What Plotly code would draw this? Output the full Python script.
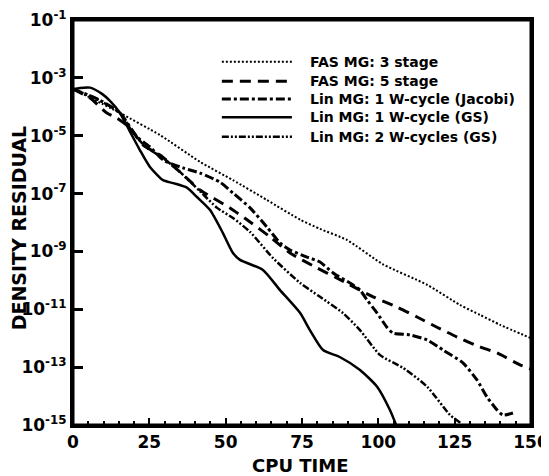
import plotly.graph_objects as go

# ---- data (CPU time vs density residual) ----
fas3_cpu = [0, 15.4, 28.5, 41.6, 52.4, 63.5, 74.4, 80.9, 89.7, 101.5, 116.0, 126.8, 133.3, 139.9, 150.0]
fas3_res = [4.1e-4, 6.1e-5, 1.05e-5, 1.25e-6, 2.9e-7, 6.0e-8, 1.25e-8, 6.0e-9, 2.5e-9, 3.6e-10,
            7.0e-11, 1.4e-11, 6.4e-12, 2.9e-12, 1.0e-12]

fas5_cpu = [0, 5.6, 11.1, 14.4, 18.7, 22.9, 28.5, 35.0, 41.6, 51.4, 58.0, 64.5, 71.1, 79.9, 86.5,
            98.3, 106.1, 112.7, 119.2, 125.8, 133.3, 138.9, 146.4, 150.0]
fas5_res = [4.1e-4, 2.0e-4, 6.1e-5, 4.1e-5, 1.85e-5, 4.8e-6, 2.15e-6, 5.6e-7, 1.33e-7, 3.2e-8, 1.04e-8,
            3.2e-9, 8.8e-10, 2.7e-10, 1.2e-10, 2.7e-11, 1.2e-11, 5.4e-12, 2.4e-12, 1.1e-12, 5.0e-13,
            3.1e-13, 1.2e-13, 8.6e-14]

jac_cpu = [0, 8.8, 15.4, 21.0, 25.2, 29.5, 36.0, 41.6, 48.1, 52.4, 58.0, 63.5, 67.8, 71.1, 76.6, 80.9,
           85.2, 90.7, 94.0, 96.3, 99.6, 102.8, 104.8, 110.4, 116.0, 121.2, 127.7, 132.3, 135.6, 138.9,
           140.8, 144.1]
jac_res = [4.1e-4, 1.7e-4, 6.1e-5, 9.0e-6, 4.1e-6, 1.45e-6, 7.7e-7, 5.1e-7, 2.5e-7, 1.05e-7, 3.2e-8,
           7.0e-9, 1.96e-9, 1.12e-9, 6.4e-10, 4.3e-10, 1.8e-10, 8.1e-11, 4.6e-11, 2.1e-11, 7.4e-12,
           2.4e-12, 1.5e-12, 1.3e-12, 8.7e-13, 3.9e-13, 1.4e-13, 3.6e-14, 9.3e-15, 3.3e-15, 2.2e-15, 2.6e-15]

gs1_cpu = [0, 2.3, 5.6, 9.5, 12.1, 15.4, 18.7, 21.9, 25.2, 29.5, 32.8, 37.3, 40.6, 44.9, 49.1, 52.4,
           54.7, 62.2, 67.8, 74.4, 77.6, 81.9, 87.5, 94.0, 99.6, 103.8, 106.1]
gs1_res = [4.1e-4, 4.5e-4, 4.6e-4, 2.8e-4, 1.6e-4, 6.1e-5, 1.35e-5, 3.2e-6, 8.3e-7, 2.9e-7, 2.3e-7,
           1.6e-7, 7.6e-8, 2.7e-8, 4.3e-9, 8.8e-10, 5.1e-10, 2.3e-10, 4.6e-11, 7.4e-12, 1.9e-12,
           3.9e-13, 2.2e-13, 8.0e-14, 2.1e-14, 3.3e-15, 8.5e-16]

gs2_cpu = [0, 7.2, 15.4, 19.7, 24.2, 29.5, 35.0, 41.6, 47.2, 52.4, 58.0, 65.5, 74.4, 80.9, 88.4, 94.0,
           100.6, 108.1, 116.0, 123.5, 126.8, 127.7]
gs2_res = [4.1e-4, 2.0e-4, 6.1e-5, 1.24e-5, 3.8e-6, 1.7e-6, 5.6e-7, 1.2e-7, 3.2e-8, 1.43e-8, 4.7e-9,
           5.9e-10, 8.1e-11, 2.7e-11, 7.4e-12, 1.9e-12, 2.6e-13, 9.4e-14, 2.1e-14, 2.2e-15, 1.2e-15, 8.5e-16]

series_names = ["FAS MG: 3 stage", "FAS MG: 5 stage", "Lin MG: 1 W-cycle (Jacobi)",
                "Lin MG: 1 W-cycle (GS)", "Lin MG: 2 W-cycles (GS)"]

x_ticks = [0, 25, 50, 75, 100, 125, 150]
y_tick_vals = [1e-1, 1e-3, 1e-5, 1e-7, 1e-9, 1e-11, 1e-13, 1e-15]
y_tick_text = ["10<sup>-1</sup>", "10<sup>-3</sup>", "10<sup>-5</sup>", "10<sup>-7</sup>",
               "10<sup>-9</sup>", "10<sup>-11</sup>", "10<sup>-13</sup>", "10<sup>-15</sup>"]
x_title = "CPU TIME"
y_title = "DENSITY RESIDUAL"

# ---- styles ----
styles = [
    dict(width=2.0, dash="2px,2px"),
    dict(width=3.0, dash="11px,7px"),
    dict(width=3.0, dash="9px,3px,3px,3px"),
    dict(width=2.5, dash="solid"),
    dict(width=2.5, dash="7px,2px,2px,2px,2px,2px"),
]
xs = [fas3_cpu, fas5_cpu, jac_cpu, gs1_cpu, gs2_cpu]
ys = [fas3_res, fas5_res, jac_res, gs1_res, gs2_res]

FONT = "DejaVu Sans"

fig = go.Figure()
for name, x, y, st in zip(series_names, xs, ys, styles):
    fig.add_trace(go.Scatter(x=x, y=y, mode="lines", name=name,
                             line=dict(color="black", width=st["width"], dash=st["dash"],
                                       shape="spline", smoothing=0.6),
                             showlegend=False))

# custom legend (long line samples as in the reference)
leg_rows = [0.897, 0.849, 0.805, 0.760, 0.712]
for name, st, yy in zip(series_names, styles, leg_rows):
    fig.add_shape(type="line", xref="paper", yref="paper", x0=0.325, x1=0.478, y0=yy, y1=yy,
                  line=dict(color="black", width=st["width"], dash=st["dash"]))
    fig.add_annotation(xref="paper", yref="paper", x=0.513, y=yy, text=name, showarrow=False,
                       xanchor="left", yanchor="middle",
                       font=dict(family=FONT, size=14, color="black", weight="bold"))

# plot frame
fig.add_shape(type="rect", xref="paper", yref="paper", x0=0, x1=1, y0=0, y1=1,
              line=dict(color="#000000", width=3), layer="above")

# axis titles
fig.add_annotation(xref="paper", yref="paper", x=0.496, y=-0.100, text=x_title, showarrow=False,
                   xanchor="center", yanchor="middle",
                   font=dict(family=FONT, size=18, color="black", weight="bold"))
fig.add_annotation(xref="paper", yref="paper", x=-0.118, y=0.488, text=y_title, showarrow=False,
                   textangle=-90, xanchor="center", yanchor="middle",
                   font=dict(family=FONT, size=19, color="black", weight="bold"))

fig.update_layout(
    width=549, height=476,
    margin=dict(l=65, r=26, t=12, b=59),
    plot_bgcolor="#ffffff", paper_bgcolor="#ffffff",
    font=dict(family=FONT, color="black"),
    showlegend=False,
)
fig.update_xaxes(
    range=[0, 150], tickvals=x_ticks, ticks="inside", ticklen=7, tickwidth=2, tickcolor="black",
    showline=True, linewidth=3, linecolor="#000000", mirror=True, showgrid=False, zeroline=False,
    automargin=False, ticklabeloverflow="allow",
    tickfont=dict(family=FONT, size=17, color="black", weight="bold"),
    minor=dict(dtick=5, ticks="inside", ticklen=4, tickwidth=1.5, tickcolor="black", showgrid=False),
)
fig.update_yaxes(
    type="log", range=[-15, -1], tickvals=y_tick_vals, ticktext=y_tick_text,
    ticks="inside", ticklen=10, tickwidth=3, tickcolor="black",
    showline=True, linewidth=3, linecolor="#000000", mirror=True, showgrid=False, zeroline=False,
    automargin=False, ticklabeloverflow="allow",
    tickfont=dict(family=FONT, size=17, color="black", weight="bold"),
)

fig.write_html("out.html")
